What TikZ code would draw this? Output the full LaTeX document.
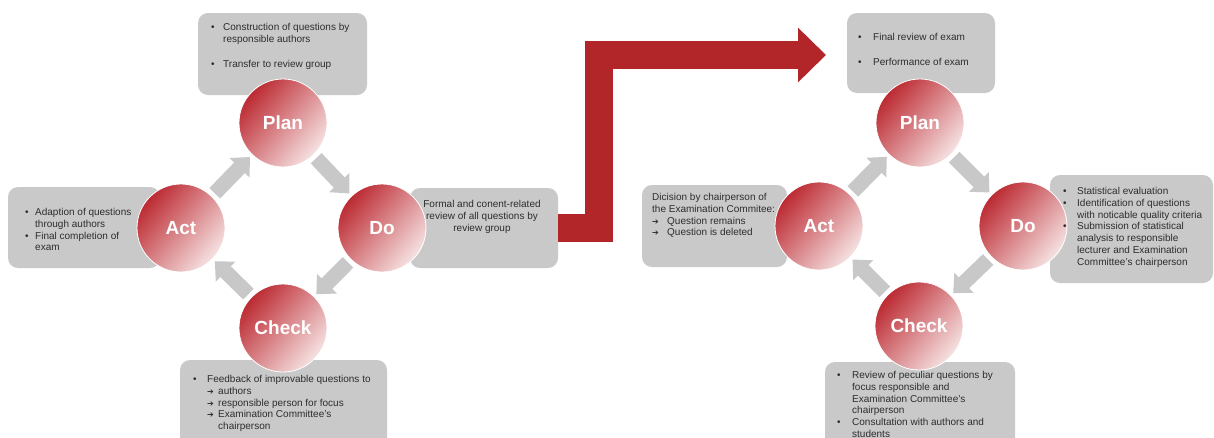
\documentclass[tikz,border=0pt]{standalone}
\usepackage{fontspec}
\setmainfont{Liberation Sans}
\newfontfamily\symfont{DejaVu Sans}
\usetikzlibrary{arrows.meta,calc}
\definecolor{boxgray}{RGB}{201,201,201}
\definecolor{arrgray}{RGB}{200,200,200}
\definecolor{cdark}{RGB}{188,42,50}
\definecolor{clight}{RGB}{246,226,226}
\definecolor{bigred}{RGB}{178,38,42}
\definecolor{txt}{RGB}{45,45,45}
\newcommand\mybul[1]{\makebox[#1][l]{\textbullet}}
\newcommand\myarr[1]{\makebox[#1][l]{{\symfont\fontsize{8}{8}\selectfont ➔}}}
\tikzset{
  gbox/.style={fill=boxgray, rounded corners=10pt, inner sep=0pt},
  cyc/.style={circle, inner sep=0pt, minimum size=88pt, top color=cdark, bottom color=clight, shading angle=50, draw=white, line width=0.8pt, text=white, font=\fontsize{19}{19}\selectfont\bfseries},
  txtnode/.style={inner sep=0pt, align=left, anchor=north west, text=txt, font=\fontsize{10}{11.8}\selectfont},
  garr/.style={draw=arrgray, line width=15pt, -{Triangle[length=15pt,width=27pt]}, shorten <=4pt, shorten >=3pt},
  bigarrow/.style={draw=bigred, line width=28pt, line join=miter, -{Triangle[length=28pt,width=53pt]}}
}
\begin{document}
\begin{tikzpicture}[x=1pt,y=-1pt]
\useasboundingbox (0,0) rectangle (1214,437);
% ---------- left cycle: boxes ----------
\node[gbox, minimum width=169pt, minimum height=82pt] (lplanbox) at (282.5,54) {};
\node[gbox, minimum width=152pt, minimum height=81pt] (lactbox) at (84,227.5) {};
\node[gbox, minimum width=148pt, minimum height=80pt] (ldobox) at (484,228) {};
\node[gbox, minimum width=207pt, minimum height=88pt] (lcheckbox) at (283.5,404) {};
% ---------- right cycle: boxes ----------
\node[gbox, minimum width=148pt, minimum height=80pt] (rplanbox) at (921,53) {};
\node[gbox, minimum width=145pt, minimum height=82pt] (ractbox) at (714.5,226) {};
\node[gbox, minimum width=163pt, minimum height=108pt] (rdobox) at (1131.5,229) {};
\node[gbox, minimum width=190pt, minimum height=88pt] (rcheckbox) at (920,406) {};
% ---------- big red arrow ----------
\coordinate (rturn) at (599,55);
\coordinate (rtip) at (826,55);
\draw[bigarrow] (ldobox.east) -| (rturn) -- (rtip);
% ---------- circles ----------
\node[cyc] (lplan) at (283,123) {Plan};
\node[cyc] (lact) at (181,228) {Act};
\node[cyc] (ldo) at (382,228) {Do};
\node[cyc] (lcheck) at (283,328) {Check};
\node[cyc] (rplan) at (920,123) {Plan};
\node[cyc] (ract) at (819,226) {Act};
\node[cyc] (rdo) at (1023,226) {Do};
\node[cyc] (rcheck) at (919,326) {Check};
% ---------- gray cycle arrows ----------
\draw[garr] (lplan) -- (ldo);
\draw[garr] (ldo) -- (lcheck);
\draw[garr] (lcheck) -- (lact);
\draw[garr] (lact) -- (lplan);
\draw[garr] (rplan) -- (rdo);
\draw[garr] (rdo) -- (rcheck);
\draw[garr] (rcheck) -- (ract);
\draw[garr] (ract) -- (rplan);
% ---------- texts ----------
\node[txtnode] (lplantxt) at (211,23) {\mybul{12pt}Construction of questions by\\\hspace*{12pt}responsible authors\\[13pt]\mybul{12pt}Transfer to review group};
\node[txtnode] (lacttxt) at (25,208) {\mybul{10pt}Adaption of questions\\\hspace*{10pt}through authors\\\mybul{10pt}Final completion of\\\hspace*{10pt}exam};
\node[txtnode, anchor=north, align=center] (ldotxt) at (482,200) {Formal and conent-related\\review of all questions by\\review group};
\node[txtnode] (lchecktxt) at (193,375) {\mybul{14pt}Feedback of improvable questions to\\\hspace*{14pt}\myarr{11pt}authors\\\hspace*{14pt}\myarr{11pt}responsible person for focus\\\hspace*{14pt}\myarr{11pt}Examination Committee's\\\hspace*{25pt}chairperson};
\node[txtnode] (rplantxt) at (858,33) {\mybul{15pt}Final review of exam\\[13pt]\mybul{15pt}Performance of exam};
\node[txtnode] (racttxt) at (652,193) {Dicision by chairperson of\\the Examination Commitee:\\\myarr{15pt}Question remains\\\myarr{15pt}Question is deleted};
\node[txtnode] (rdotxt) at (1063,187) {\mybul{14pt}Statistical evaluation\\\mybul{14pt}Identification of questions\\\hspace*{14pt}with noticable quality criteria\\\mybul{14pt}Submission of statistical\\\hspace*{14pt}analysis to responsible\\\hspace*{14pt}lecturer and Examination\\\hspace*{14pt}Committee's chairperson};
\node[txtnode] (rchecktxt) at (837,371) {\mybul{15pt}Review of peculiar questions by\\\hspace*{15pt}focus responsible and\\\hspace*{15pt}Examination Committee's\\\hspace*{15pt}chairperson\\\mybul{15pt}Consultation with authors and\\\hspace*{15pt}students};
\end{tikzpicture}
\end{document}
